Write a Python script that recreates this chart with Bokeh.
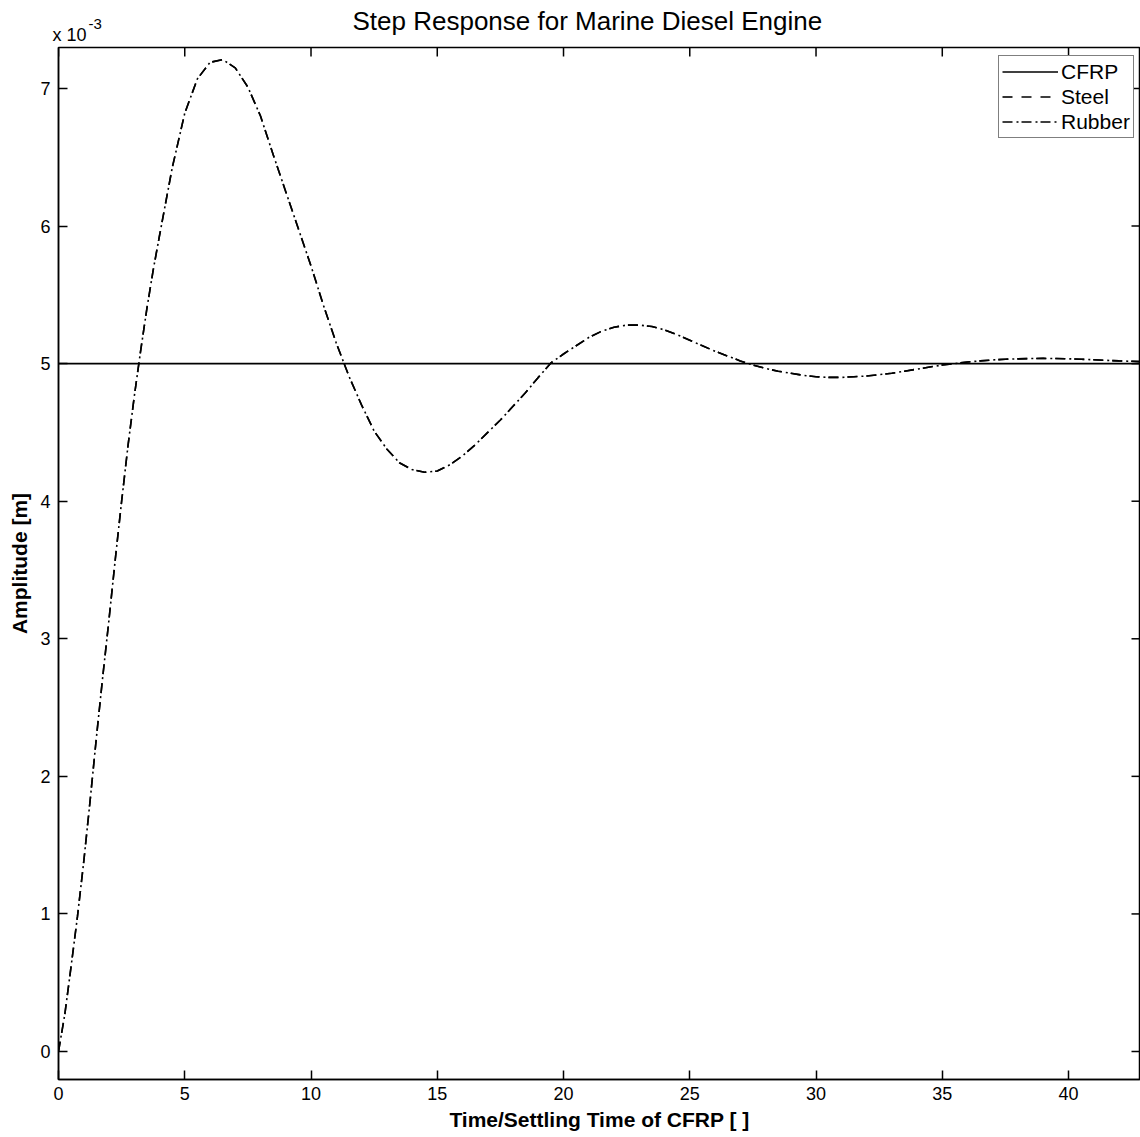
from math import pi
from bokeh.plotting import figure
from bokeh.models import Range1d, FixedTicker, Legend, LegendItem, Title
from bokeh.embed import file_html
from bokeh.resources import INLINE

# ---- data (amplitude in units of 1e-3 m) ----
time_s = [0.0, 0.25, 0.5, 0.75, 1.0, 1.25, 1.5, 1.75, 2.0, 2.25, 2.5, 2.75,
          3.0, 3.25, 3.5, 3.75, 4.0, 4.5, 5.0, 5.5, 6.0, 6.5, 7.0, 7.5,
          8.0, 8.5, 9.0, 9.5, 10.0, 10.5, 11.0, 11.5, 12.0, 12.5, 13.0, 13.5,
          14.0, 14.5, 15.0, 15.5, 16.0, 16.5, 17.0, 17.5, 18.0, 18.5, 19.0, 19.5,
          20.0, 20.5, 21.0, 21.5, 22.0, 22.5, 23.0, 23.5, 24.0, 24.5, 25.0, 25.5,
          26.0, 26.5, 27.0, 27.5, 28.0, 28.5, 29.0, 29.5, 30.0, 30.5, 31.0, 31.5,
          32.0, 32.5, 33.0, 33.5, 34.0, 34.5, 35.0, 35.5, 36.0, 36.5, 37.0, 37.5,
          38.0, 38.5, 39.0, 39.5, 40.0, 40.5, 41.0, 41.5, 42.0, 42.5, 43.0]

steel_amp = [0.00, 0.27, 0.62, 0.98, 1.38, 1.82, 2.28, 2.72, 3.14, 3.58, 4.00, 4.40,
             4.76, 5.09, 5.40, 5.68, 5.93, 6.42, 6.82, 7.07, 7.19, 7.21, 7.15, 7.01,
             6.80, 6.52, 6.25, 5.98, 5.71, 5.42, 5.15, 4.91, 4.70, 4.51, 4.38, 4.28,
             4.23, 4.21, 4.22, 4.265, 4.33, 4.41, 4.50, 4.59, 4.69, 4.79, 4.90, 5.005,
             5.07, 5.13, 5.19, 5.235, 5.265, 5.28, 5.28, 5.27, 5.245, 5.21, 5.17, 5.13,
             5.09, 5.055, 5.02, 4.99, 4.965, 4.945, 4.93, 4.915, 4.905, 4.90, 4.90, 4.905,
             4.91, 4.92, 4.93, 4.945, 4.96, 4.975, 4.99, 5.00, 5.012, 5.02, 5.027, 5.032,
             5.035, 5.037, 5.038, 5.037, 5.035, 5.032, 5.028, 5.024, 5.02, 5.017, 5.014]

# Rubber and Steel coincide in the picture
rubber_amp = list(steel_amp)

cfrp_time = [0.0, 43.0]
cfrp_amp = [5.0, 5.0]

x_ticks = [0, 5, 10, 15, 20, 25, 30, 35, 40]
y_ticks = [0, 1, 2, 3, 4, 5, 6, 7]

FONT = "Liberation Sans"
X_START, X_END = 0.0, 42.85
Y_START, Y_END = -0.2035, 7.298

p = figure(width=1140, height=1137, output_backend="svg", toolbar_location=None,
           x_range=Range1d(X_START, X_END), y_range=Range1d(Y_START, Y_END),
           min_border_left=58, min_border_right=0, min_border_top=47, min_border_bottom=58,
           title="Step Response for Marine Diesel Engine")
p.background_fill_color = "white"
p.border_fill_color = "white"
p.outline_line_color = "black"
p.outline_line_width = 1.5
p.xgrid.visible = False
p.ygrid.visible = False

p.title.text_font = FONT
p.title.text_font_size = "26px"
p.title.text_font_style = "normal"
p.title.text_color = "black"
p.title.align = "left"
p.title.offset = 294
p.title.standoff = -30

def style_axis(ax, ticks):
    ax.ticker = FixedTicker(ticks=ticks)
    ax.major_tick_in = 9
    ax.major_tick_out = 0
    ax.minor_tick_in = 0
    ax.minor_tick_out = 0
    ax.axis_line_color = "black"
    ax.axis_line_width = 1.5
    ax.major_tick_line_color = "black"
    ax.major_tick_line_width = 1.5
    ax.major_label_text_font = FONT
    ax.major_label_text_color = "black"
    ax.major_label_text_font_size = "18px"

xa = p.xaxis[0]
style_axis(xa, x_ticks)
xa.major_label_standoff = 7
xa.axis_label = "Time/Settling Time of CFRP [ ]"
xa.axis_label_text_font = FONT
xa.axis_label_text_font_size = "21px"
xa.axis_label_text_font_style = "bold"
xa.axis_label_text_color = "black"
xa.axis_label_standoff = 5

ya = p.yaxis[0]
style_axis(ya, y_ticks)
ya.major_label_standoff = 8
ya.axis_label = "Amplitude [m]"
ya.axis_label_text_font = FONT
ya.axis_label_text_font_size = "21px"
ya.axis_label_text_font_style = "bold"
ya.axis_label_text_color = "black"
ya.axis_label_standoff = 6

# inward tick marks on the top and right box edges (MATLAB style box)
p.ray(x=x_ticks, y=[Y_END] * len(x_ticks), length=9, length_units="screen",
      angle=-pi / 2, line_color="black", line_width=1.5)
p.ray(x=[X_END] * len(y_ticks), y=y_ticks, length=9, length_units="screen",
      angle=pi, line_color="black", line_width=1.5)

# axis multiplier "x 10^-3", written as base text plus raised exponent
mult_title = Title(text="x 10", align="left", offset=-6, standoff=5,
                   text_font=FONT, text_font_size="18px", text_font_style="normal",
                   text_color="black")
p.add_layout(mult_title, "above")
exp_title = Title(text="-3", align="left", offset=30, standoff=-17,
                  text_font=FONT, text_font_size="15px", text_font_style="normal",
                  text_color="black")
p.add_layout(exp_title, "above")

r_cfrp = p.line(cfrp_time, cfrp_amp, line_color="black", line_width=1.7)
r_steel = p.line(time_s, steel_amp, line_color="black", line_width=1.6, line_dash="10 9")
r_rubber = p.line(time_s, rubber_amp, line_color="black", line_width=1.6, line_dash="10 4 2 3")

legend = Legend(items=[LegendItem(label="CFRP", renderers=[r_cfrp]),
                       LegendItem(label="Steel", renderers=[r_steel]),
                       LegendItem(label="Rubber", renderers=[r_rubber])],
                location=(940, 941))
legend.label_text_font = FONT
legend.label_text_font_size = "21px"
legend.label_text_color = "black"
legend.label_height = 25
legend.glyph_height = 25
legend.glyph_width = 56
legend.label_standoff = 3
legend.spacing = 0
legend.padding = 3
legend.margin = 0
legend.border_line_color = "black"
legend.border_line_width = 1.2
legend.background_fill_color = "white"
legend.background_fill_alpha = 1.0
p.add_layout(legend)

open("out.html", "w").write(file_html(p, INLINE))
